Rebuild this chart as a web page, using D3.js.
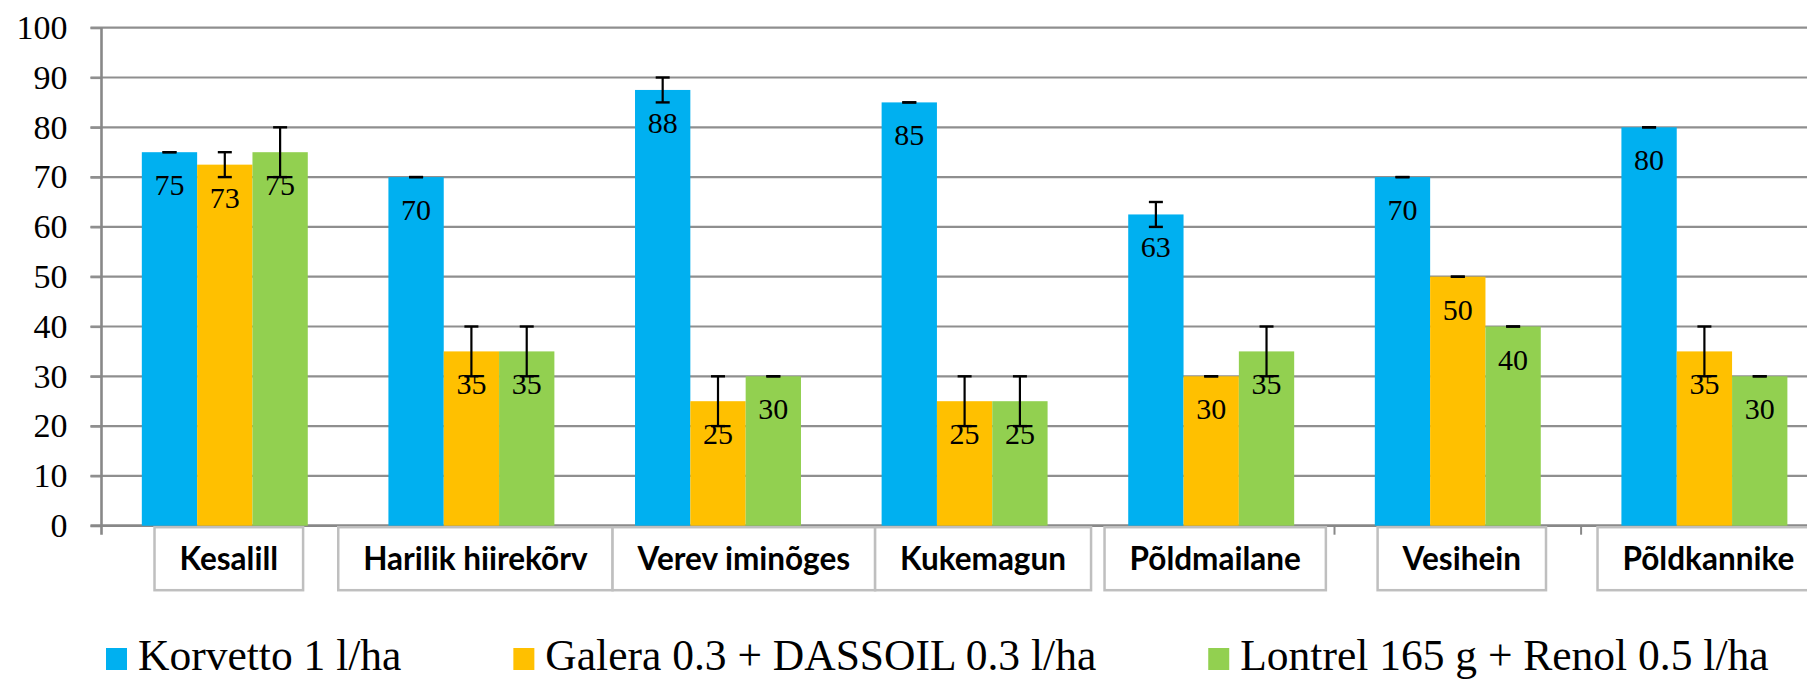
<!DOCTYPE html>
<html>
<head>
<meta charset="utf-8">
<script src="https://cdn.jsdelivr.net/npm/d3@7"></script>
<style>
  html, body { margin: 0; padding: 0; background: #fff; overflow: hidden; }
  svg { display: block; }
</style>
</head>
<body>
<figure id="tulemus" style="margin:0"></figure>
<script>
// data
var categories = ['Kesalill', 'Harilik hiirekõrv', 'Verev iminõges', 'Kukemagun', 'Põldmailane', 'Vesihein', 'Põldkannike'];
var seriesNames = ['Korvetto 1 l/ha', 'Galera 0.3 + DASSOIL 0.3 l/ha', 'Lontrel 165 g + Renol 0.5 l/ha'];
var korvetto = [75, 70, 87.5, 85, 62.5, 70, 80];
var korvettoErr = [0, 0, 2.5, 0, 2.5, 0, 0];
var galera = [72.5, 35, 25, 25, 30, 50, 35];
var galeraErr = [2.5, 5, 5, 5, 0, 0, 5];
var lontrel = [75, 35, 30, 25, 35, 40, 30];
var lontrelErr = [5, 5, 0, 5, 5, 0, 0];
var yTicks = [0, 10, 20, 30, 40, 50, 60, 70, 80, 90, 100];
var colors = ['#00B0F0', '#FFC000', '#92D050'];

var values = [korvetto, galera, lontrel];
var errors = [korvettoErr, galeraErr, lontrelErr];

var W = 1807, H = 681;
var plotLeft = 101.5, plotTop = 27.7, plotBottom = 525.7;
var bandW = 246.6;

var container = d3.select('figure#tulemus');
var svg = container.append('svg')
    .attr('width', W)
    .attr('height', H);

// scales
var x0 = d3.scaleBand()
    .domain(categories)
    .range([plotLeft, plotLeft + bandW * categories.length])
    .padding(0);
var gapSide = x0.bandwidth() * 0.1635;
var x1 = d3.scaleBand()
    .domain(d3.range(seriesNames.length))
    .range([gapSide, x0.bandwidth() - gapSide])
    .padding(0);
var y = d3.scaleLinear()
    .domain([0, 100])
    .range([plotBottom, plotTop]);

// grid lines
svg.append('g')
    .classed('grid', true)
    .selectAll('line')
    .data(yTicks.slice(1))
    .enter()
        .append('line')
        .attr('x1', plotLeft - 11)
        .attr('x2', W + 30)
        .attr('y1', function(d) { return y(d); })
        .attr('y2', function(d) { return y(d); })
        .style('stroke', '#8f8f8f')
        .style('stroke-width', 2.2);

// y axis
var yAxis = d3.axisLeft(y)
    .tickValues(yTicks)
    .tickSize(11)
    .tickPadding(23)
    .tickSizeOuter(0);
var yg = svg.append('g')
    .classed('y axis', true)
    .attr('transform', 'translate(' + plotLeft + ',0)')
    .call(yAxis);
yg.select('.domain').remove();
yg.selectAll('line')
    .style('stroke', '#8f8f8f')
    .style('stroke-width', 2.2);
yg.selectAll('text')
    .style('font-family', '"Liberation Serif", "Times New Roman", serif')
    .style('font-size', '34px')
    .style('fill', '#000');

// x axis line with ticks at band borders
svg.append('line')
    .attr('x1', plotLeft - 11).attr('x2', W + 30)
    .attr('y1', y(0)).attr('y2', y(0))
    .style('stroke', '#888')
    .style('stroke-width', 2.8);
svg.append('line')
    .attr('x1', plotLeft).attr('x2', plotLeft)
    .attr('y1', y(100)).attr('y2', y(0) + 9)
    .style('stroke', '#888')
    .style('stroke-width', 2.6);
svg.append('g')
    .selectAll('line')
    .data(categories.slice(1))
    .enter()
        .append('line')
        .attr('x1', function(d) { return x0(d); })
        .attr('x2', function(d) { return x0(d); })
        .attr('y1', y(0))
        .attr('y2', y(0) + 9)
        .style('stroke', '#888')
        .style('stroke-width', 2);

// bars
var rows = categories.map(function(c, i) {
    return seriesNames.map(function(s, j) {
        return { cat: c, s: j, v: values[j][i], e: errors[j][i] };
    });
});
var groups = svg.append('g')
    .classed('data-series', true)
    .selectAll('g')
    .data(rows)
    .enter()
        .append('g')
        .attr('transform', function(d, i) { return 'translate(' + x0(categories[i]) + ',0)'; });

groups.selectAll('.bar')
    .data(function(d) { return d; })
    .enter()
        .append('rect')
        .classed('bar', true)
        .attr('x', function(d) { return x1(d.s); })
        .attr('y', function(d) { return y(d.v); })
        .attr('width', x1.bandwidth())
        .attr('height', function(d) { return y(0) - y(d.v); })
        .style('fill', function(d) { return colors[d.s]; });

// labels inside end
groups.selectAll('.lbl')
    .data(function(d) { return d; })
    .enter()
        .append('text')
        .classed('lbl', true)
        .attr('x', function(d) { return x1(d.s) + x1.bandwidth() / 2; })
        .attr('y', function(d) { return y(d.v) + 43; })
        .attr('text-anchor', 'middle')
        .style('font-family', '"Liberation Serif", "Times New Roman", serif')
        .style('font-size', '30px')
        .style('fill', '#000')
        .text(function(d) { return Math.round(d.v); });

// error bars
var eb = groups.selectAll('.err')
    .data(function(d) { return d; })
    .enter()
        .append('g')
        .classed('err', true)
        .attr('transform', function(d) { return 'translate(' + (x1(d.s) + x1.bandwidth() / 2) + ',0)'; });
eb.append('line')
    .attr('y1', function(d) { return y(d.v + d.e); })
    .attr('y2', function(d) { return y(d.v - d.e); })
    .style('stroke', '#000').style('stroke-width', 2.2);
eb.append('line')
    .attr('x1', -7).attr('x2', 7)
    .attr('y1', function(d) { return y(d.v + d.e); })
    .attr('y2', function(d) { return y(d.v + d.e); })
    .style('stroke', '#000').style('stroke-width', 2.4);
eb.append('line')
    .attr('x1', -7).attr('x2', 7)
    .attr('y1', function(d) { return y(d.v - d.e); })
    .attr('y2', function(d) { return y(d.v - d.e); })
    .style('stroke', '#000').style('stroke-width', 2.4);

// category label boxes (pushed right when they would overlap)
var boxG = svg.append('g').classed('cat-labels', true);
var boxes = categories.map(function(c) {
    var t = boxG.append('text')
        .attr('y', 570)
        .attr('text-anchor', 'middle')
        .style('font-family', 'Lato, "Open Sans", sans-serif')
        .style('font-weight', 700)
        .style('font-size', '31.5px')
        .style('fill', '#000')
        .text(c);
    var w = t.node().getComputedTextLength() + 50;
    return { t: t, w: w, cx: x0(c) + x0.bandwidth() / 2 + 4 };
});
var lastRight = -Infinity;
boxes.forEach(function(b) {
    var l = b.cx - b.w / 2;
    if (l < lastRight) l = lastRight;
    b.l = l;
    lastRight = l + b.w;
});
boxes.forEach(function(b) {
    boxG.insert('rect', 'text')
        .attr('x', b.l)
        .attr('y', y(0) + 1.5)
        .attr('width', b.w)
        .attr('height', 63)
        .style('fill', '#fff')
        .style('stroke', '#bfbfbf')
        .style('stroke-width', 2.5);
    b.t.attr('x', b.l + b.w / 2);
});

// legend
var legend = svg.append('g').classed('legend', true);
var lx = 106;
seriesNames.forEach(function(s, i) {
    legend.append('rect')
        .attr('x', lx)
        .attr('y', 648)
        .attr('width', 21)
        .attr('height', 22)
        .style('fill', colors[i]);
    var t = legend.append('text')
        .attr('x', lx + 32)
        .attr('y', 670)
        .style('font-family', '"Liberation Serif", "Times New Roman", serif')
        .style('font-size', '43.5px')
        .style('fill', '#000')
        .text(s);
    lx = lx + 32 + t.node().getComputedTextLength() + 112;
});
</script>
</body>
</html>
